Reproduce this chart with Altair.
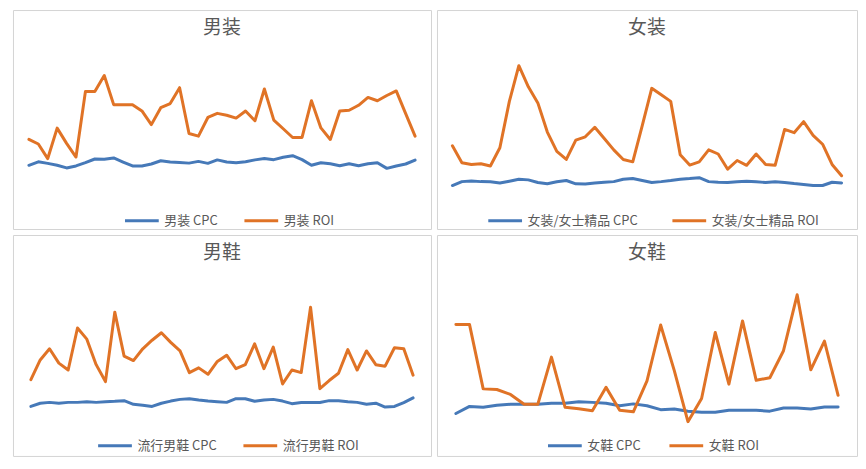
import altair as alt
import pandas as pd

FONT = "Noto Sans CJK SC"
BLUE = "#4679b8"
ORANGE = "#e07326"
TEXT = "#595959"

# ---- 男装 ----
p1_title = "男装"
p1_names = ["男装 CPC", "男装 ROI"]
p1_cpc = [28.6, 30.2, 29.5, 28.6, 27.4, 28.3, 29.8, 31.5, 31.4, 32.0,
          30.1, 28.3, 28.3, 29.2, 30.7, 30.1, 29.9, 29.6, 30.4, 29.5,
          31.1, 30.1, 29.8, 30.2, 31.1, 31.7, 31.2, 32.3, 33.0, 31.2,
          28.6, 29.8, 29.3, 28.4, 29.3, 28.4, 29.3, 29.8, 27.2, 28.3,
          29.2, 31.0]
p1_roi = [40.5, 38.4, 31.7, 45.7, 38.7, 32.4, 62.5, 62.5, 69.9, 56.5,
          56.5, 56.5, 53.6, 47.3, 55.1, 57.0, 64.3, 43.2, 42.0, 50.6,
          52.5, 51.6, 50.3, 53.6, 49.1, 63.7, 49.4, 45.4, 41.4, 41.4,
          58.3, 45.8, 40.5, 53.6, 53.9, 56.2, 59.8, 58.3, 60.7, 62.8,
          52.4, 42.0]

# ---- 女装 ----
p2_title = "女装"
p2_names = ["女装/女士精品 CPC", "女装/女士精品 ROI"]
p2_cpc = [19.3, 21.1, 21.4, 21.1, 21.0, 20.5, 21.3, 22.2, 21.9, 20.7,
          20.1, 21.0, 21.6, 20.1, 20.0, 20.5, 20.8, 21.1, 22.2, 22.5,
          21.6, 20.7, 21.1, 21.6, 22.2, 22.5, 22.9, 21.1, 20.8, 20.7,
          21.0, 21.3, 21.0, 20.7, 21.0, 20.7, 20.2, 19.8, 19.3, 19.3,
          20.8, 20.5]
p2_roi = [37.6, 29.8, 29.0, 29.3, 28.3, 36.7, 58.0, 74.4, 64.7, 57.3,
          43.9, 35.0, 31.3, 40.2, 41.7, 46.1, 40.9, 35.7, 31.3, 30.2,
          46.9, 64.0, 61.0, 58.0, 33.5, 28.7, 30.2, 35.7, 33.8, 26.8,
          30.8, 28.6, 33.8, 29.0, 28.6, 45.1, 43.6, 48.7, 42.4, 38.3,
          29.0, 23.8]

# ---- 男鞋 ----
p3_title = "男鞋"
p3_names = ["流行男鞋 CPC", "流行男鞋 ROI"]
p3_cpc = [19.5, 21.0, 21.4, 21.0, 21.4, 21.4, 21.7, 21.4, 21.7, 21.9,
          22.2, 20.5, 20.1, 19.5, 21.0, 22.0, 22.8, 23.1, 22.5, 22.0,
          21.7, 21.4, 23.1, 23.1, 21.9, 22.5, 22.8, 22.0, 20.8, 21.3,
          21.3, 21.3, 22.2, 22.2, 21.7, 21.4, 20.5, 21.0, 19.2, 19.5,
          21.3, 23.5]
p3_roi = [32.0, 41.2, 46.4, 39.7, 36.5, 56.1, 50.9, 39.0, 31.1, 63.5,
          43.0, 40.9, 46.4, 50.4, 53.9, 49.4, 45.4, 35.3, 37.5, 34.5,
          40.5, 43.4, 37.1, 39.0, 48.7, 37.1, 47.2, 30.0, 36.5, 35.3,
          65.8, 27.8, 31.6, 35.0, 46.0, 36.5, 45.4, 39.0, 38.3, 46.9,
          46.4, 34.1]

# ---- 女鞋 ----
p4_title = "女鞋"
p4_names = ["女鞋 CPC", "女鞋 ROI"]
p4_cpc = [16.2, 19.5, 19.1, 20.1, 20.5, 20.5, 20.5, 21.0, 21.0, 21.7,
          21.4, 21.0, 19.8, 20.7, 19.8, 18.0, 18.3, 17.3, 16.8, 16.8,
          17.7, 17.7, 17.7, 17.3, 18.8, 18.8, 18.3, 19.2, 19.2]
p4_roi = [57.7, 57.7, 27.7, 27.4, 25.1, 20.5, 20.5, 42.5, 19.1, 18.4,
          17.5, 28.4, 17.7, 17.0, 31.4, 57.5, 36.2, 12.4, 23.2, 54.0,
          29.9, 59.4, 31.7, 32.9, 45.5, 71.6, 36.6, 50.0, 24.7]


def panel(title, names, cpc, roi, width, height, pad_px, y_domain,
          legend_x, legend_y, col_pad):
    n = len(cpc)
    step = (width - 2 * pad_px) / (n - 1)
    p = pad_px / step
    df = pd.DataFrame({
        "idx": list(range(n)) * 2,
        "value": cpc + roi,
        "series": [names[0]] * n + [names[1]] * n,
    })
    lines = alt.Chart(df).mark_line(
        strokeWidth=3, strokeJoin="round", strokeCap="round"
    ).encode(
        x=alt.X("idx:Q", axis=None,
                scale=alt.Scale(domain=[-p, n - 1 + p], nice=False, zero=False)),
        y=alt.Y("value:Q", axis=None,
                scale=alt.Scale(domain=y_domain, nice=False, zero=False)),
        color=alt.Color(
            "series:N",
            scale=alt.Scale(domain=names, range=[BLUE, ORANGE]),
            legend=alt.Legend(
                title=None, orient="none", legendX=legend_x, legendY=legend_y,
                direction="horizontal", symbolType="stroke", symbolSize=1150,
                symbolStrokeWidth=3, labelFontSize=13, labelColor=TEXT,
                labelFont=FONT, columnPadding=col_pad, labelOffset=4, padding=0,
            ),
        ),
    )
    head = alt.Chart(pd.DataFrame({"t": [title]})).mark_text(
        fontSize=19, font=FONT, color=TEXT, align="center", baseline="middle"
    ).encode(text="t:N", x=alt.value(width / 2), y=alt.value(18))
    return alt.layer(lines, head).properties(width=width, height=height)


top_dom = [-0.7, 100]
bot_dom = [-3.6, 99.5]

c1 = panel(p1_title, p1_names, p1_cpc, p1_roi, 420, 220, 16, top_dom, 111, 193, 20)
c2 = panel(p2_title, p2_names, p2_cpc, p2_roi, 422, 220, 15.5, top_dom, 50, 193, 28)
c3 = panel(p3_title, p3_names, p3_cpc, p3_roi, 420, 222, 18, bot_dom, 84, 193, 20)
c4 = panel(p4_title, p4_names, p4_cpc, p4_roi, 422, 222, 19, bot_dom, 110, 193, 22)

row1 = alt.hconcat(c1, c2, spacing=4).resolve_scale(
    color="independent", x="independent", y="independent").resolve_legend(color="independent")
row2 = alt.hconcat(c3, c4, spacing=4).resolve_scale(
    color="independent", x="independent", y="independent").resolve_legend(color="independent")

chart = alt.vconcat(row1, row2, spacing=4).resolve_scale(
    color="independent", x="independent", y="independent"
).resolve_legend(color="independent").properties(
    padding={"left": 4, "top": 0, "right": 0, "bottom": 0},
    background="white",
).configure_view(stroke="#d4d4d4", strokeWidth=1)

chart.save("out.html", embed_options={"renderer": "svg", "actions": False})
